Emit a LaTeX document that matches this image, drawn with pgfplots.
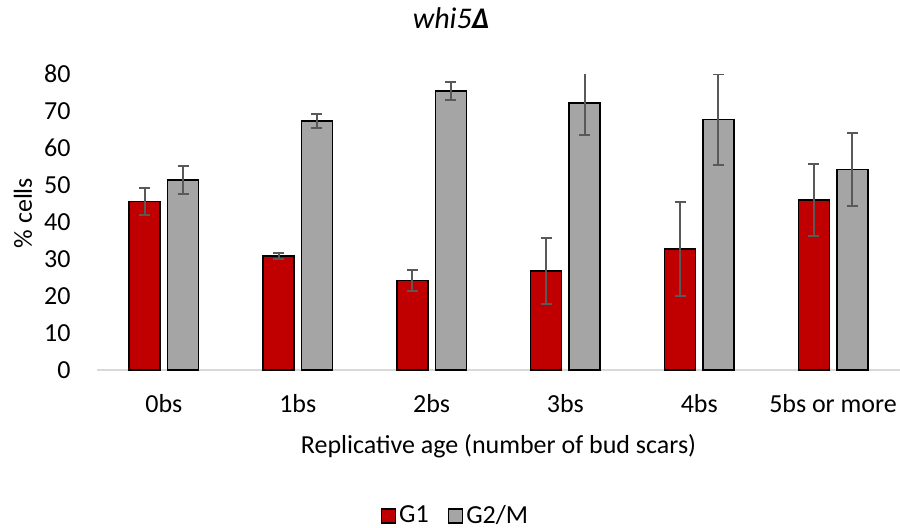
\documentclass[border=0pt]{standalone}
\usepackage{pgfplots}
\pgfplotsset{compat=1.18}
\usepackage{fontspec}
\setmainfont{Carlito}
\definecolor{barRed}{HTML}{C00000}
\definecolor{barGray}{HTML}{A5A5A5}
\definecolor{errGray}{HTML}{595959}
\definecolor{axGray}{HTML}{D9D9D9}
\newcommand{\lblfont}{\fontsize{13bp}{15bp}\selectfont}
\begin{document}
\begin{tikzpicture}
\begin{axis}[
  at={(0,0)}, anchor=south west,
  scale only axis, width=401.5bp, height=148bp,
  xmin=-0.5, xmax=5.5, ymin=0, ymax=80,
  ybar=3.7bp, bar width=15.5bp,
  ytick={0,10,...,80},
  xtick={0,...,5},
  xticklabels={0bs,1bs,2bs,3bs,4bs,5bs or more},
  major tick length=0pt,
  separate axis lines,
  axis x line*=bottom, axis y line*=left,
  y axis line style={draw=none},
  x axis line style={draw=axGray, line width=0.75bp, -},
  /pgf/number format/assume math mode=true,
  tick label style={font=\lblfont},
  yticklabel style={anchor=east, inner sep=0pt, xshift=-13bp},
  xticklabel style={anchor=base, inner sep=0pt, yshift=-21bp},
  xlabel={Replicative age (number of bud scars)},
  ylabel={\% cells},
  every axis x label/.style={at={(axis description cs:0.5,0)}, anchor=base, yshift=-41.5bp, inner sep=0pt, font=\lblfont},
  every axis y label/.style={at={(axis description cs:-0.0922,0.530)}, rotate=90, anchor=center, inner sep=0pt, font=\lblfont},
  title={\itshape whi5\textbf{Δ}},
  every axis title/.style={at={(axis description cs:0.4408,1)}, anchor=base, yshift=23bp, inner sep=0pt, font=\fontsize{15bp}{18bp}\selectfont},
  legend columns=2,
  legend style={draw=none, fill=none, at={(axis description cs:0.447,-0.493)}, anchor=center, font=\lblfont, inner sep=0pt,
    nodes={inner sep=1.5bp, anchor=west},
    /tikz/every even column/.append style={column sep=8bp}},
  legend image code/.code={\draw[#1] (0bp,-3.5bp) rectangle (7bp,3.5bp);},
]
\addplot[fill=barRed, draw=black, line width=0.75bp,
  error bars/.cd, y dir=both, y explicit,
  error bar style={draw=errGray, line width=1bp},
  error mark options={draw=errGray, line width=1bp, rotate=90, mark size=2.75bp}]
  coordinates {(0,45.5) +- (0,3.7) (1,30.8) +- (0,0.8) (2,24.2) +- (0,2.9)
               (3,26.8) +- (0,9.0) (4,32.7) +- (0,12.6) (5,46.0) +- (0,9.7)};
\addlegendentry{G1}
\addplot[fill=barGray, draw=black, line width=0.75bp,
  error bars/.cd, y dir=both, y explicit,
  error bar style={draw=errGray, line width=1bp},
  error mark options={draw=errGray, line width=1bp, rotate=90, mark size=2.75bp}]
  coordinates {(0,51.4) +- (0,3.8) (1,67.3) +- (0,2.0) (2,75.4) +- (0,2.5)
               (3,72.2) +- (0,8.7) (4,67.7) +- (0,12.2) (5,54.2) +- (0,9.8)};
\addlegendentry{G2/M}
\end{axis}
\pgfresetboundingbox
\path (-48.5bp,-79bp) rectangle (401.5bp,185bp);
\end{tikzpicture}
\end{document}
